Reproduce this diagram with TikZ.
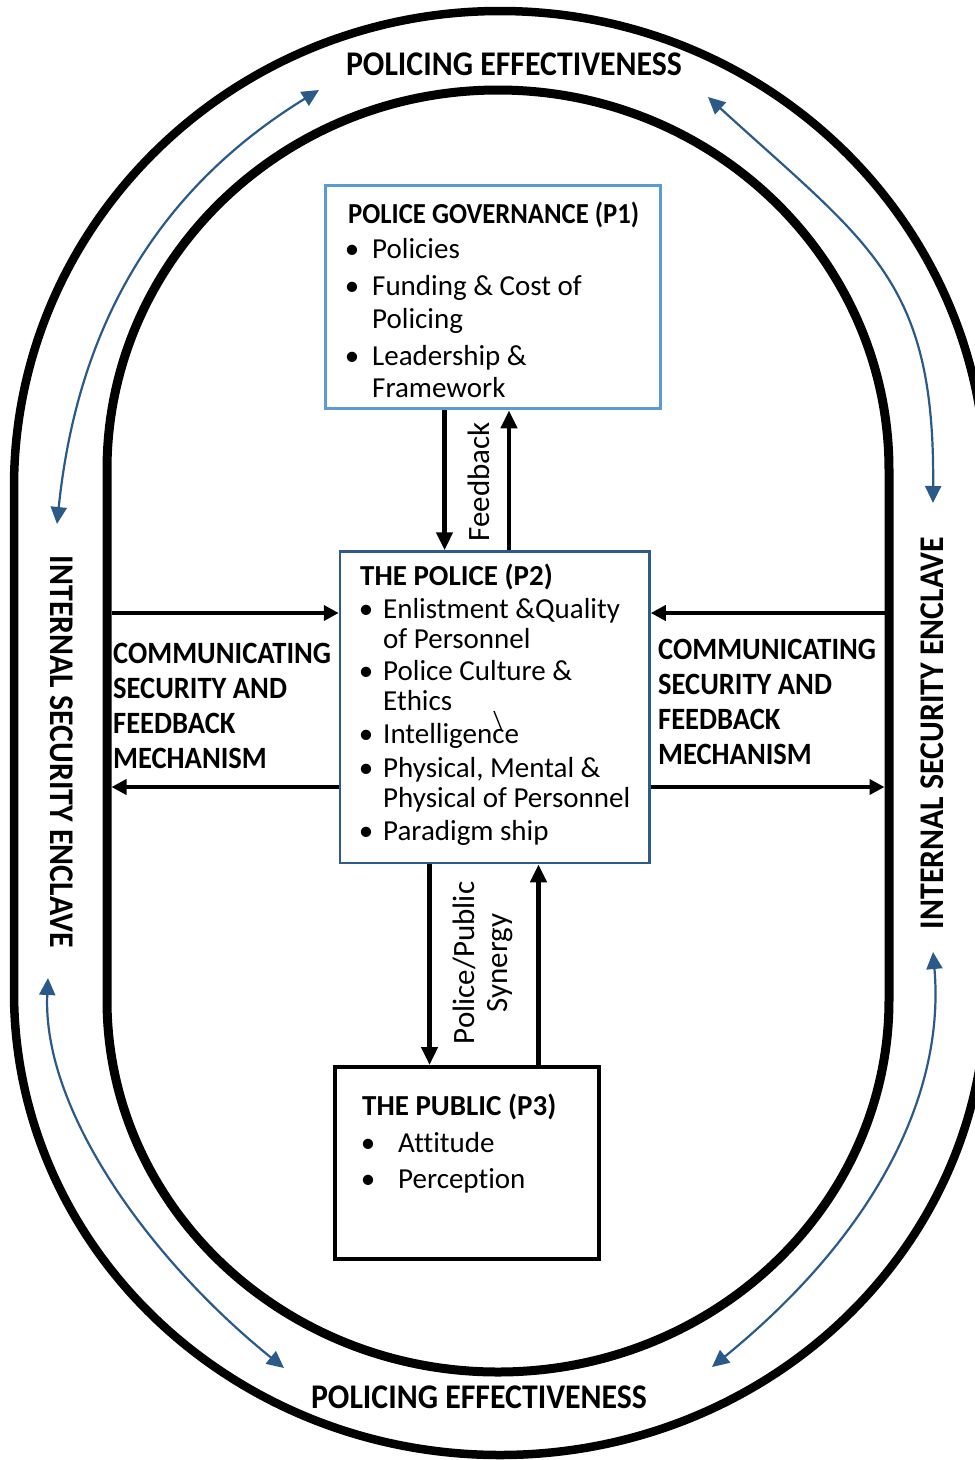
\documentclass[tikz,border=0pt]{standalone}
\usepackage{fontspec}
\setmainfont[Ligatures=NoCommon]{Carlito}
\newfontfamily\condf[FakeStretch=0.92,Ligatures=NoCommon]{Carlito}
\usetikzlibrary{arrows.meta,calc}
\definecolor{arrowblue}{HTML}{2C5A88}
\definecolor{lightblue}{HTML}{5B9BD5}
\definecolor{boxblue}{HTML}{2F5A8C}
\begin{document}
\begin{tikzpicture}[x=1pt,y=-1pt,
  every node/.style={inner sep=0pt},
  ringline/.style={draw=black, line width=#1},
  itemtext/.style={anchor=base west, font=\fontsize{29}{34}\selectfont},
  bul/.style={anchor=base, font=\fontsize{29}{34}\selectfont},
  boxtitle/.style={anchor=base west, font=\fontsize{29}{34}\selectfont\bfseries},
  bigcond/.style={font=\condf\bfseries\fontsize{34.6}{40}\selectfont},
  commtext/.style={anchor=base west, font=\condf\bfseries\fontsize{31}{36}\selectfont},
  rotlabel/.style={font=\fontsize{31}{36}\selectfont, rotate=90, anchor=base},
  blackarrow/.style={draw=black, line width=4.5pt, -{Triangle[length=18pt,width=16pt]}},
  sidearrow/.style={draw=black, line width=4pt, -{Triangle[length=15pt,width=15pt]}},
  bluearrow/.style={draw=arrowblue, line width=2.2pt, {Triangle[length=17pt,width=16pt]}-{Triangle[length=17pt,width=16pt]}},
]
\useasboundingbox (0,0) rectangle (975,1460);
\fill[white] (0,0) rectangle (975,1460);

% outer ring
\draw[ringline=8.5pt] (14,992) -- (14,487) .. controls (14,224.1) and (231.6,11) .. (500,11)
  .. controls (768.4,11) and (986,224.1) .. (986,487) -- (986,992)
  .. controls (986,1247.7) and (768.4,1455) .. (500,1455)
  .. controls (231.6,1455) and (14,1247.7) .. (14,992) -- cycle;
% inner ring
\draw[ringline=9pt] (107,1000) -- (107,470) .. controls (107,260.1) and (282.1,90) .. (498,90)
  .. controls (713.9,90) and (889,260.1) .. (889,470) -- (889,1000)
  .. controls (889,1205.5) and (713.9,1372) .. (498,1372)
  .. controls (282.1,1372) and (107,1205.5) .. (107,1000) -- cycle;

% boxes
\node[draw=lightblue, line width=3.5pt, minimum width=335pt, minimum height=223pt] (p1) at (493,297) {};
\node[draw=boxblue, line width=2.5pt, minimum width=309.5pt, minimum height=311.5pt] (p2) at (494.75,707.25) {};
\node[draw=black, line width=4pt, minimum width=264pt, minimum height=192pt] (p3) at (467,1163) {};

% P1 text
\node[boxtitle, font=\condf\bfseries\fontsize{29}{34}\selectfont] (p1t) at (348,223) {POLICE GOVERNANCE (P1)};
\node[bul] (p1b1) at (352,258) {•};
\node[bul] (p1b2) at (352,295) {•};
\node[bul] (p1b3) at (352,365) {•};
\node[itemtext] (p1a) at (372,258) {Policies};
\node[itemtext] (p1c) at (372,295) {Funding \& Cost of};
\node[itemtext] (p1d) at (372,328) {Policing};
\node[itemtext] (p1e) at (372,365) {Leadership \&};
\node[itemtext] (p1f) at (372,397) {Framework};

% P2 text
\node[boxtitle] (p2t) at (360,585) {THE POLICE (P2)};
\node[bul] (p2b1) at (366,618) {•};
\node[bul] (p2b2) at (366,680) {•};
\node[bul] (p2b3) at (366,743) {•};
\node[bul] (p2b4) at (366,777) {•};
\node[bul] (p2b5) at (366,840) {•};
\node[itemtext] (p2a) at (383,618) {Enlistment \&Quality};
\node[itemtext] (p2c) at (383,648) {of Personnel};
\node[itemtext] (p2d) at (383,680) {Police Culture \&};
\node[itemtext] (p2e) at (383,710) {Ethics};
\node[itemtext] (p2f) at (383,743) {Intelligence};
\node[itemtext] (p2g) at (383,777) {Physical, Mental \&};
\node[itemtext] (p2h) at (383,807) {Physical of Personnel};
\node[itemtext] (p2i) at (383,840) {Paradigm ship};
\draw[line width=1.3pt] (494,711) -- (502,731);

% P3 text
\node[boxtitle] (p3t) at (362,1115) {THE PUBLIC (P3)};
\node[bul] (p3b1) at (368,1152) {•};
\node[bul] (p3b2) at (368,1188) {•};
\node[itemtext] (p3a) at (398,1152) {Attitude};
\node[itemtext] (p3c) at (398,1188) {Perception};

% outer labels
\node[bigcond, anchor=base] (petop) at (514,75) {POLICING EFFECTIVENESS};
\node[bigcond, anchor=base] (pebot) at (479,1408) {POLICING EFFECTIVENESS};
\node[bigcond, anchor=base, rotate=-90] (iseL) at (50,752) {INTERNAL SECURITY ENCLAVE};
\node[bigcond, anchor=base, rotate=90] (iseR) at (943,733) {INTERNAL SECURITY ENCLAVE};

% communicating labels
\node[commtext] (cl1) at (113,663) {COMMUNICATING};
\node[commtext] (cl2) at (113,698) {SECURITY AND};
\node[commtext] (cl3) at (113,733) {FEEDBACK};
\node[commtext] (cl4) at (113,768) {MECHANISM};
\node[commtext] (cr1) at (658,659) {COMMUNICATING};
\node[commtext] (cr2) at (658,694) {SECURITY AND};
\node[commtext] (cr3) at (658,729) {FEEDBACK};
\node[commtext] (cr4) at (658,764) {MECHANISM};

% rotated arrow labels
\node[rotlabel] (fb) at (489,482) {Feedback};
\node[rotlabel] (syn1) at (474,963) {Police/Public};
\node[rotlabel] (syn2) at (507,963) {Synergy};

% vertical arrows
\coordinate (xa) at (444.5,0);
\coordinate (xb) at (509,0);
\coordinate (xc) at (429.5,0);
\coordinate (xd) at (538.5,0);
\draw[blackarrow] (xa |- p1.south) -- (xa |- p2.north);
\draw[blackarrow] (xb |- p2.north) -- (xb |- p1.south);
\draw[blackarrow] (xc |- p2.south) -- (xc |- p3.north);
\draw[blackarrow] (xd |- p3.north) -- (xd |- p2.south);

% side arrows
\coordinate (L1) at (111.5,613);
\coordinate (L2) at (111.5,787);
\coordinate (R1) at (884.5,613);
\coordinate (R2) at (884.5,787);
\draw[sidearrow] (L1) -- (L1 -| p2.west);
\draw[sidearrow] (L2 -| p2.west) -- (L2);
\draw[sidearrow] (R1) -- (R1 -| p2.east);
\draw[sidearrow] (R2 -| p2.east) -- (R2);

% blue curved arrows
\coordinate (tl1) at (57,524);
\coordinate (tl2) at (319,90);
\coordinate (tr1) at (708,97);
\coordinate (tr2) at (933,503);
\coordinate (bl1) at (48,978);
\coordinate (bl2) at (284,1368);
\coordinate (br1) at (933,952);
\coordinate (br2) at (712,1367);
\draw[bluearrow] (tl1) .. controls (75,350) and (140,200) .. (tl2);
\draw[bluearrow] (tr1) .. controls (870,245) and (935,280) .. (tr2);
\draw[bluearrow] (bl1) .. controls (42,1110) and (150,1260) .. (bl2);
\draw[bluearrow] (br1) .. controls (945,1090) and (880,1230) .. (br2);
\end{tikzpicture}
\end{document}
